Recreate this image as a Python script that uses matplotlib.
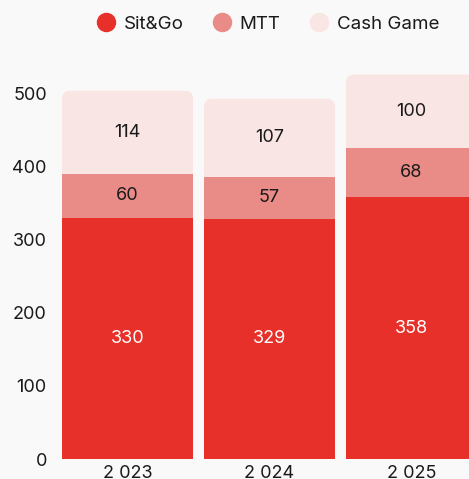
import matplotlib.pyplot as plt
from matplotlib.patches import FancyBboxPatch
from matplotlib.lines import Line2D

# data
years = ["2 023", "2 024", "2 025"]
sitgo = [330, 329, 358]
mtt = [60, 57, 68]
cash = [114, 107, 100]

c_sit = "#E8302A"
c_mtt = "#E98C88"
c_cash = "#F9E6E4"
bg = "#F9F9F9"

plt.rcParams["font.family"] = ["Inter", "DejaVu Sans"]

fig = plt.figure(figsize=(4.69, 4.79), dpi=100, facecolor=bg)
W, H = 469, 479
ax = fig.add_axes([56.5 / W, 20 / H, (W - 56.5) / W, 399 / H])
ax.set_facecolor(bg)

width = 0.9225
ymax = 546
ax.set_xlim(-0.5, 2.405)
ax.set_ylim(0, ymax)

# rounding radius ~8 px, converted to data units
px_x = (W - 56.5) / 2.905
px_y = 399 / ymax
rx = 8 / px_x
ry = 8 / px_y

for i in range(len(years)):
    left = i - width / 2
    base_c = sitgo[i] + mtt[i]
    top = base_c + cash[i]
    # cash segment with rounded top (bottom corners hidden under MTT)
    box = FancyBboxPatch((left, base_c - 20), width, top - base_c + 20,
                         boxstyle=f"round,pad=0,rounding_size={rx}",
                         mutation_aspect=ry / rx,
                         facecolor=c_cash, edgecolor="none", zorder=1)
    ax.add_patch(box)
ax.bar(range(len(years)), sitgo, width, color=c_sit, zorder=2)
ax.bar(range(len(years)), mtt, width, bottom=sitgo, color=c_mtt, zorder=2)

for i in range(len(years)):
    ax.text(i, sitgo[i] / 2, str(sitgo[i]), ha="center", va="center",
            color="white", fontsize=13, zorder=3)
    ax.text(i, sitgo[i] + mtt[i] / 2, str(mtt[i]), ha="center", va="center",
            color="#1a1a1a", fontsize=13, zorder=3)
    ax.text(i, sitgo[i] + mtt[i] + cash[i] / 2, str(cash[i]), ha="center",
            va="center", color="#1a1a1a", fontsize=13, zorder=3)

ax.set_xticks(range(len(years)))
ax.set_xticklabels(years)
ax.set_yticks([0, 100, 200, 300, 400, 500])
ax.tick_params(length=0, labelsize=13, labelcolor="#1a1a1a")
ax.tick_params(axis="y", pad=7)
ax.tick_params(axis="x", pad=4)
for s in ax.spines.values():
    s.set_visible(False)

handles = [
    Line2D([], [], marker="o", linestyle="", markersize=13, color=c_sit, label="Sit&Go"),
    Line2D([], [], marker="o", linestyle="", markersize=13, color=c_mtt, label="MTT"),
    Line2D([], [], marker="o", linestyle="", markersize=13, color=c_cash, label="Cash Game"),
]
fig.legend(handles=handles, loc="center", bbox_to_anchor=(267 / W, 1 - 24 / H),
           ncol=3, frameon=False, fontsize=13.5, handletextpad=0.35,
           columnspacing=1.45, handlelength=1.2, labelcolor="#1a1a1a")

fig.savefig("out.png", dpi=100, facecolor=bg)
